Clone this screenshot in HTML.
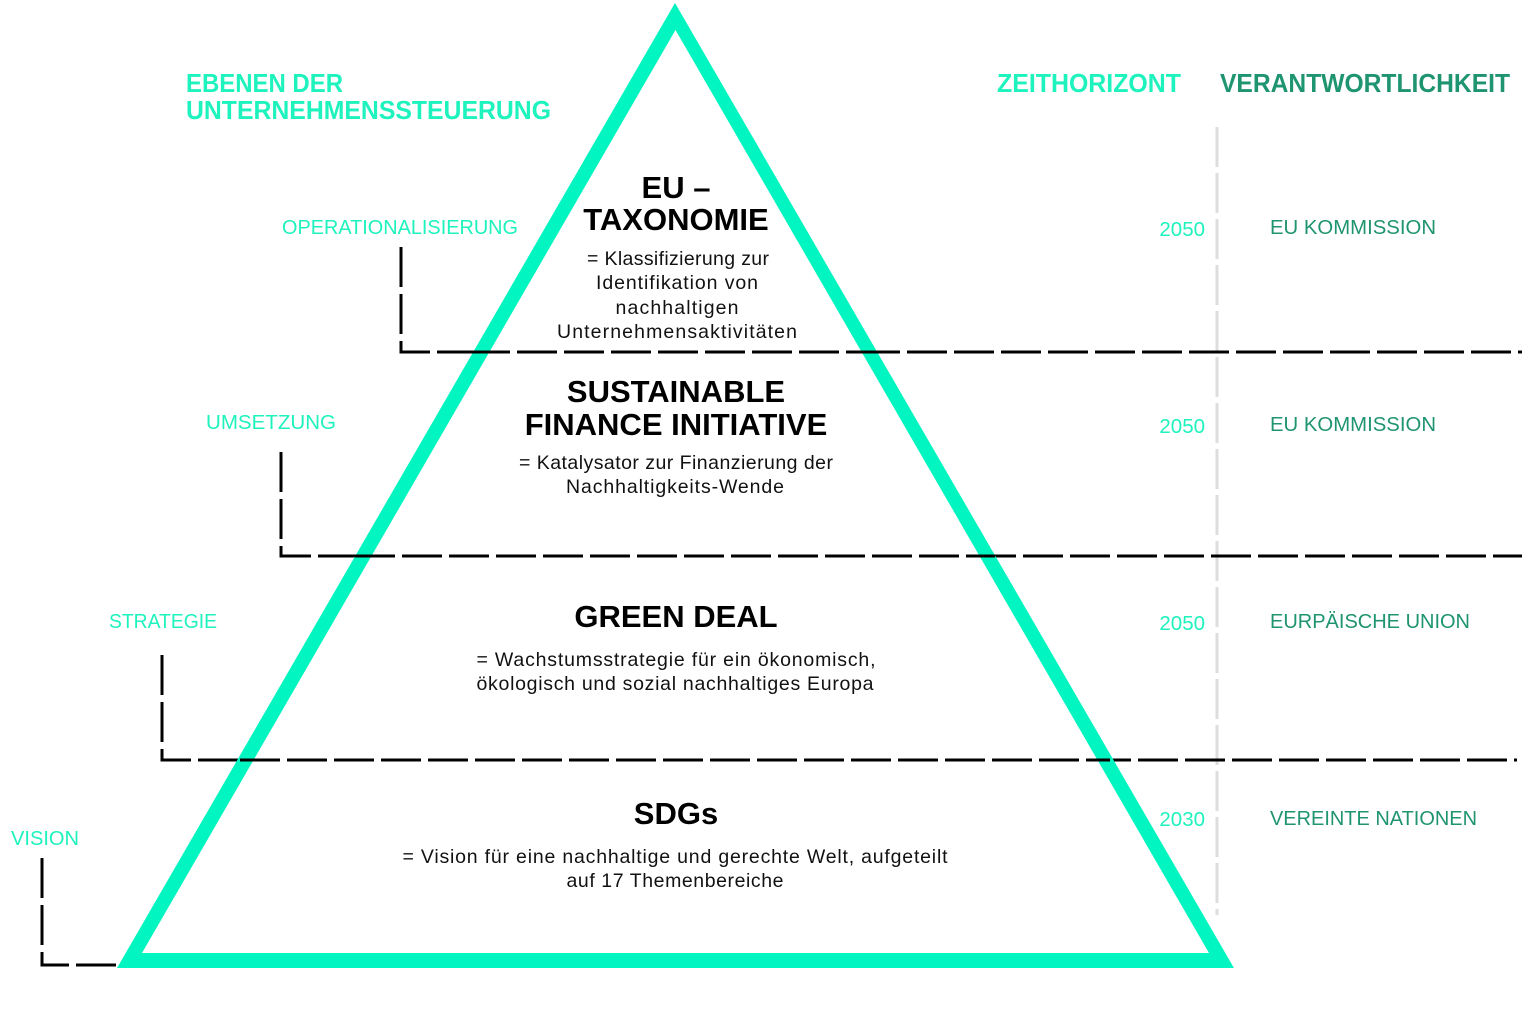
<!DOCTYPE html>
<html><head><meta charset="utf-8"><style>
html,body{margin:0;padding:0;background:#fff;}
svg{display:block;}
text{font-family:"Liberation Sans","DejaVu Sans",sans-serif;}
.h{font-weight:bold;font-size:31px;fill:#000;text-anchor:middle;}
.d{font-size:19.5px;fill:#111;text-anchor:middle;}
.t{font-size:20.5px;fill:#1ef2bd;}
.g{font-size:20.5px;fill:#1f9470;}
.hd{font-weight:bold;font-size:26px;}
</style></head><body>
<svg width="1536" height="1035" viewBox="0 0 1536 1035" xmlns="http://www.w3.org/2000/svg">
<rect width="1536" height="1035" fill="#fff"/>
<line x1="1217" y1="127" x2="1217" y2="915" stroke="#ddd" stroke-width="3" stroke-dasharray="40 6"/>
<g stroke="#000" stroke-width="3" fill="none" stroke-dasharray="40 7">
<polyline points="401,247 401,352 1522,352"/>
<polyline points="281,452 281,556 1522,556"/>
<polyline points="162,655 162,760 1517,760"/>
<polyline points="42,858 42,965 117,965"/>
</g>
<polygon points="675,3 117,968 1234,968" fill="#00f5c0"/>
<polygon points="675.5,30 142,953 1209,953" fill="#fff"/>
<g stroke="#000" stroke-width="3" fill="none" stroke-dasharray="40 7">
<line x1="470" y1="352" x2="880" y2="352"/>
<line x1="355" y1="556" x2="995" y2="556"/>
<line x1="240" y1="760" x2="1110" y2="760"/>
</g>
<text class="hd" x="186" y="92" fill="#1ef2bd" textLength="157" lengthAdjust="spacingAndGlyphs">EBENEN DER</text>
<text class="hd" x="186" y="119" fill="#1ef2bd" textLength="365" lengthAdjust="spacingAndGlyphs">UNTERNEHMENSSTEUERUNG</text>
<text class="hd" x="997" y="92" fill="#1ef2bd" textLength="184" lengthAdjust="spacingAndGlyphs">ZEITHORIZONT</text>
<text class="hd" x="1220" y="92" fill="#1f9470" textLength="290" lengthAdjust="spacingAndGlyphs">VERANTWORTLICHKEIT</text>
<text class="t" x="282" y="234" textLength="236" lengthAdjust="spacingAndGlyphs">OPERATIONALISIERUNG</text>
<text class="t" x="206" y="429" textLength="130" lengthAdjust="spacingAndGlyphs">UMSETZUNG</text>
<text class="t" x="109" y="628" textLength="108" lengthAdjust="spacingAndGlyphs">STRATEGIE</text>
<text class="t" x="11" y="845" textLength="68" lengthAdjust="spacingAndGlyphs">VISION</text>
<text class="t" x="1205" y="236" text-anchor="end">2050</text>
<text class="t" x="1205" y="433" text-anchor="end">2050</text>
<text class="t" x="1205" y="630" text-anchor="end">2050</text>
<text class="t" x="1205" y="826" text-anchor="end">2030</text>
<text class="g" x="1270" y="234" textLength="166" lengthAdjust="spacingAndGlyphs">EU KOMMISSION</text>
<text class="g" x="1270" y="431" textLength="166" lengthAdjust="spacingAndGlyphs">EU KOMMISSION</text>
<text class="g" x="1270" y="628" textLength="200" lengthAdjust="spacingAndGlyphs">EURPÄISCHE UNION</text>
<text class="g" x="1270" y="825" textLength="207" lengthAdjust="spacingAndGlyphs">VEREINTE NATIONEN</text>
<text class="h" x="676" y="198">EU –</text>
<text class="h" x="676" y="230">TAXONOMIE</text>
<text class="d" x="678" y="265" textLength="182">= Klassifizierung zur</text>
<text class="d" x="677" y="289" textLength="162">Identifikation von</text>
<text class="d" x="677" y="314" textLength="123">nachhaltigen</text>
<text class="d" x="677" y="338" textLength="240">Unternehmensaktivitäten</text>
<text class="h" x="676" y="402">SUSTAINABLE</text>
<text class="h" x="676" y="435">FINANCE INITIATIVE</text>
<text class="d" x="676" y="469" textLength="314">= Katalysator zur Finanzierung der</text>
<text class="d" x="675" y="493" textLength="218">Nachhaltigkeits-Wende</text>
<text class="h" x="676" y="627">GREEN DEAL</text>
<text class="d" x="676" y="666" textLength="399">= Wachstumsstrategie für ein ökonomisch,</text>
<text class="d" x="675" y="690" textLength="397">ökologisch und sozial nachhaltiges Europa</text>
<text class="h" x="676" y="824">SDGs</text>
<text class="d" x="675" y="863" textLength="545">= Vision für eine nachhaltige und gerechte Welt, aufgeteilt</text>
<text class="d" x="675" y="887" textLength="217">auf 17 Themenbereiche</text>
</svg>
</body></html>
